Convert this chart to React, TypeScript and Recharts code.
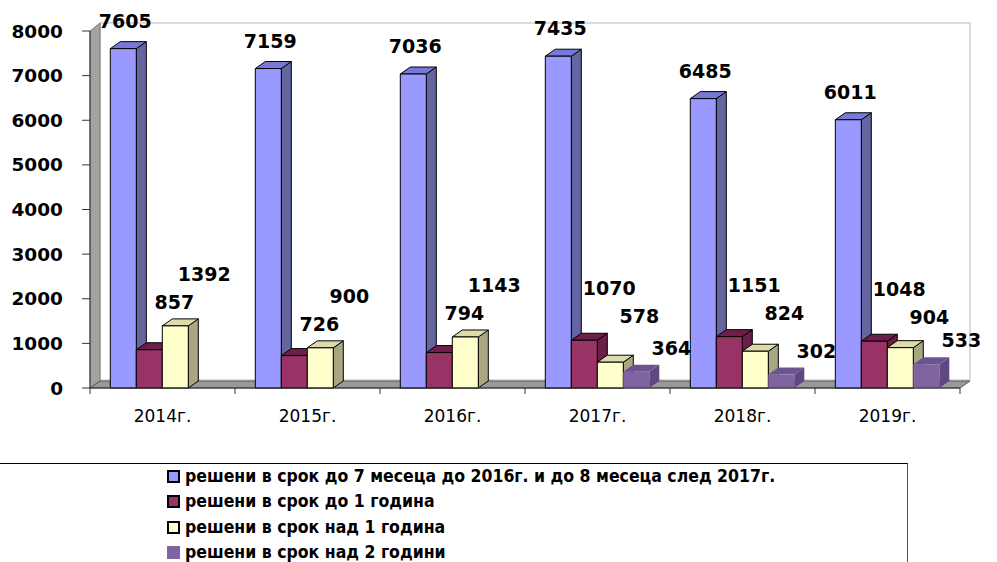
import React from "react";
import { Bar, BarChart, LabelList, Legend, XAxis, YAxis } from "recharts";

const CATEGORIES = ["2014г.", "2015г.", "2016г.", "2017г.", "2018г.", "2019г."];
const UP_TO_7_MONTHS = [7605, 7159, 7036, 7435, 6485, 6011];
const UP_TO_1_YEAR = [857, 726, 794, 1070, 1151, 1048];
const OVER_1_YEAR = [1392, 900, 1143, 578, 824, 904];
const OVER_2_YEARS = [null, null, null, 364, 302, 533];
const Y_TICKS = [0, 1000, 2000, 3000, 4000, 5000, 6000, 7000, 8000];
const SERIES_NAMES = [
  "решени в срок до 7 месеца до 2016г. и до 8 месеца след 2017г.",
  "решени в срок до 1 година",
  "решени в срок над 1 година",
  "решени в срок над 2 години",
];

const data = CATEGORIES.map((year, i) => ({
  year,
  s0: UP_TO_7_MONTHS[i],
  s1: UP_TO_1_YEAR[i],
  s2: OVER_1_YEAR[i],
  s3: OVER_2_YEARS[i],
}));

const W = 997;
const H = 562;
const PLOT_LEFT = 90;
const PLOT_RIGHT = 960;
const PLOT_TOP = 31;
const PLOT_BOTTOM = 388;
const Y_AXIS_W = 80;
const X_AXIS_H = 30;
const DX = 10; // 3d depth
const DY = 7;

const BOLD_FONT = "'DejaVu Sans', sans-serif";

// front / top / side colours, outline, label offset from the top of the bar
const STYLES = [
  { front: "#9999FF", top: "#7878D8", side: "#65659F", outline: "#000", dx: 2, up: 28 },
  { front: "#993366", top: "#6E1E4A", side: "#6B1F48", outline: "#000", dx: 25, up: 52 },
  { front: "#FFFFCC", top: "#DCDBAA", side: "#A8A782", outline: "#000", dx: 29, up: 52 },
  { front: "#8064A2", top: "#6D5391", side: "#5D4880", outline: "none", dx: 35, up: 24 },
];
const LABEL_STEP = 28; // vertical stagger between the two middle labels

function make3DShape(st: (typeof STYLES)[number]) {
  return (props: any) => {
    const { x, y, width, height } = props;
    if (height == null || height <= 0 || !width) return <g />;
    const x2 = x + width;
    const yb = y + height;
    return (
      <g stroke={st.outline} strokeWidth={1} strokeLinejoin="round">
        <polygon
          points={`${x2},${y} ${x2 + DX},${y - DY} ${x2 + DX},${yb - DY} ${x2},${yb}`}
          fill={st.side}
        />
        <polygon
          points={`${x},${y} ${x + DX},${y - DY} ${x2 + DX},${y - DY} ${x2},${y}`}
          fill={st.top}
        />
        <rect x={x} y={y} width={width} height={height} fill={st.front} />
      </g>
    );
  };
}

function makeLabel(seriesIdx: number) {
  const st = STYLES[seriesIdx];
  return (props: any) => {
    const { x, y, width, height, value, index } = props;
    if (value == null) return null;
    let ly = y - st.up;
    if (seriesIdx === 1 || seriesIdx === 2) {
      // the two middle labels are stacked, the taller bar's label on top
      const other = seriesIdx === 1 ? OVER_1_YEAR[index] : UP_TO_1_YEAR[index];
      const pxPerUnit = height / value;
      const otherY = y + (value - other) * pxPerUnit;
      const minTop = Math.min(y, otherY);
      ly = minTop - st.up + (value >= other ? 0 : LABEL_STEP);
    }
    return (
      <text
        x={x + width / 2 + st.dx}
        y={ly}
        textAnchor="middle"
        dominantBaseline="central"
        fontFamily={BOLD_FONT}
        fontWeight="bold"
        fontSize={19}
        fill="#000"
      >
        {value}
      </text>
    );
  };
}

const BAND = (PLOT_RIGHT - PLOT_LEFT) / CATEGORIES.length;

function CategoryTick(props: any) {
  const { x, payload } = props;
  const idx = CATEGORIES.indexOf(payload.value);
  const left = x - BAND / 2;
  return (
    <g>
      <line x1={left} y1={PLOT_BOTTOM} x2={left} y2={PLOT_BOTTOM + 6} stroke="#333" />
      {idx === CATEGORIES.length - 1 && (
        <line x1={left + BAND} y1={PLOT_BOTTOM} x2={left + BAND} y2={PLOT_BOTTOM + 6} stroke="#333" />
      )}
      <text
        x={x}
        y={PLOT_BOTTOM + 28}
        textAnchor="middle"
        dominantBaseline="central"
        fontFamily="'DejaVu Sans', sans-serif"
        fontSize={17}
        fill="#000"
      >
        {payload.value}
      </text>
    </g>
  );
}

function LegendBox() {
  return (
    <div
      style={{
        width: 908,
        height: 99,
        boxSizing: "border-box",
        borderTop: "1px solid #000",
        borderRight: "1px solid #555",
        background: "#fff",
        paddingLeft: 167,
        fontFamily: "'DejaVu Sans Condensed', 'DejaVu Sans', sans-serif",
        fontWeight: "bold",
        fontSize: 17.5,
        color: "#000",
        lineHeight: "25.3px",
      }}
    >
      {SERIES_NAMES.map((name, i) => (
        <div key={name} style={{ display: "flex", alignItems: "center", height: 25.3, whiteSpace: "nowrap" }}>
          <span
            style={{
              display: "inline-block",
              boxSizing: "border-box",
              width: 13,
              height: 13,
              marginRight: 5,
              background: STYLES[i].front,
              border: STYLES[i].outline === "none" ? "1px solid " + STYLES[i].front : "2px solid #000",
            }}
          />
          {name}
        </div>
      ))}
    </div>
  );
}

function Walls() {
  return (
    <svg width={W} height={H} style={{ position: "absolute", left: 0, top: 0 }}>
      <rect
        x={PLOT_LEFT + DX}
        y={PLOT_TOP - DY - 1}
        width={PLOT_RIGHT - PLOT_LEFT}
        height={PLOT_BOTTOM - PLOT_TOP}
        fill="#fff"
        stroke="#cfcfcf"
        strokeWidth={1.5}
      />
      <polygon
        points={`${PLOT_LEFT},${PLOT_TOP} ${PLOT_LEFT + DX},${PLOT_TOP - DY - 1} ${PLOT_LEFT + DX},${PLOT_BOTTOM - DY} ${PLOT_LEFT},${PLOT_BOTTOM}`}
        fill="#a3a3a3"
        stroke="#7a7a7a"
      />
      <polygon
        points={`${PLOT_LEFT},${PLOT_BOTTOM} ${PLOT_LEFT + DX},${PLOT_BOTTOM - DY} ${PLOT_RIGHT + DX},${PLOT_BOTTOM - DY} ${PLOT_RIGHT},${PLOT_BOTTOM}`}
        fill="#999"
        stroke="#555"
      />
    </svg>
  );
}

export default function App() {
  return (
    <div
      style={{
        position: "absolute",
        left: 0,
        top: 0,
        width: W,
        height: H,
        background: "#fff",
        overflow: "hidden",
      }}
    >
      <Walls />
      <div style={{ position: "absolute", left: 0, top: 0 }}>
        <BarChart
          width={W}
          height={H}
          data={data}
          margin={{
            top: PLOT_TOP,
            right: W - PLOT_RIGHT,
            left: PLOT_LEFT - Y_AXIS_W,
            bottom: H - PLOT_BOTTOM - X_AXIS_H,
          }}
          barCategoryGap="14%"
          barGap={0}
        >
          <XAxis
            dataKey="year"
            height={X_AXIS_H}
            axisLine={{ stroke: "#333" }}
            tickLine={false}
            tick={<CategoryTick />}
            interval={0}
          />
          <YAxis
            width={Y_AXIS_W}
            domain={[0, 8000]}
            ticks={Y_TICKS}
            interval={0}
            axisLine={{ stroke: "#333" }}
            tickLine={{ stroke: "#333" }}
            tickSize={8}
            tickMargin={19}
            tick={{ fontFamily: BOLD_FONT, fontWeight: "bold", fontSize: 18.5, fill: "#000" }}
          />
          <Legend
            layout="horizontal"
            verticalAlign="middle"
            align="center"
            content={<LegendBox />}
            wrapperStyle={{ position: "absolute", left: 0, top: 463, width: 908, height: 99 }}
          />
          {STYLES.map((st, i) => (
            <Bar
              key={i}
              dataKey={`s${i}`}
              name={SERIES_NAMES[i]}
              fill={st.front}
              shape={make3DShape(st)}
              isAnimationActive={false}
            >
              <LabelList dataKey={`s${i}`} content={makeLabel(i)} />
            </Bar>
          ))}
        </BarChart>
      </div>
    </div>
  );
}
